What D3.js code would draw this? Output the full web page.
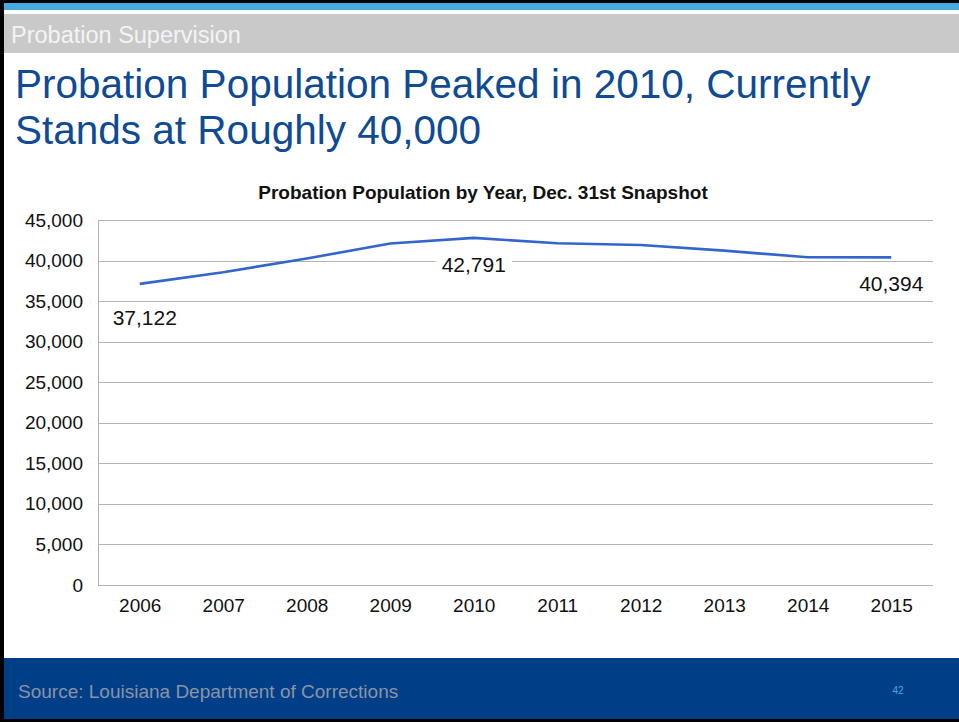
<!DOCTYPE html>
<html>
<head>
<meta charset="utf-8">
<script src="https://cdn.jsdelivr.net/npm/d3@7"></script>
<style>
  html, body { margin: 0; padding: 0; background: #fff; }
  svg { display: block; font-family: "Liberation Sans", Arial, sans-serif; }
</style>
</head>
<body>
<svg id="chart" width="959" height="722"></svg>
<script>
// ---- data ----
const years = ["2006","2007","2008","2009","2010","2011","2012","2013","2014","2015"];
const population = [37122, 38560, 40250, 42100, 42791, 42130, 41920, 41220, 40400, 40394];
const labeledYears = ["2006","2010","2015"];
const yTicks = [0, 5000, 10000, 15000, 20000, 25000, 30000, 35000, 40000, 45000];
const sectionLabel = "Probation Supervision";
const titleLines = ["Probation Population Peaked in 2010, Currently", "Stands at Roughly 40,000"];
const chartTitle = "Probation Population by Year, Dec. 31st Snapshot";
const sourceText = "Source: Louisiana Department of Corrections";
const pageNumber = "42";

(function(){
const svg = d3.select("#chart");
const W = 959, H = 722;

// ---- slide chrome ----
svg.append("rect").attr("x",0).attr("y",0).attr("width",W).attr("height",H).attr("fill","#fff");
svg.append("rect").attr("x",0).attr("y",0).attr("width",W).attr("height",3).attr("fill","#000");
svg.append("rect").attr("x",0).attr("y",3).attr("width",W).attr("height",7).attr("fill","#4aa8e0");
svg.append("rect").attr("x",0).attr("y",14).attr("width",W).attr("height",39).attr("fill","#c9c9c9");
svg.append("text").attr("x",11).attr("y",43).attr("font-size",23.5).attr("fill","#f4f4f4").text(sectionLabel);

svg.selectAll("text.title").data(titleLines).enter().append("text")
  .attr("class","title")
  .attr("x",15).attr("y",(d,i)=>98 + i*46)
  .attr("font-size",40.5).attr("fill","#0f4a94")
  .text(d=>d);

// footer
svg.append("rect").attr("x",0).attr("y",658).attr("width",W).attr("height",61).attr("fill","#003f87");
svg.append("rect").attr("x",0).attr("y",719).attr("width",W).attr("height",3).attr("fill","#000");
svg.append("text").attr("x",18).attr("y",698).attr("font-size",19).attr("fill","#8a93a8").text(sourceText);
svg.append("text").attr("x",898).attr("y",694).attr("font-size",10).attr("text-anchor","middle").attr("fill","#4aa8e0").text(pageNumber);

// left border
svg.append("rect").attr("x",0).attr("y",0).attr("width",4).attr("height",H).attr("fill","#000");

// ---- chart ----
const pl = 98, pr = 933, pt = 220, pb = 585;
const x = d3.scalePoint().domain(years).range([pl, pr]).padding(0.5);
const y = d3.scaleLinear().domain([0, 45000]).range([pb, pt]);

svg.append("text").attr("x",483).attr("y",199).attr("text-anchor","middle")
  .attr("font-size",19).attr("font-weight","bold").attr("fill","#111").text(chartTitle);

// gridlines
svg.append("g").selectAll("line").data(yTicks).enter().append("line")
  .attr("x1",pl).attr("x2",pr)
  .attr("y1",d=>Math.round(y(d))+0.5).attr("y2",d=>Math.round(y(d))+0.5)
  .attr("stroke","#b3b3b3").attr("stroke-width",1);
// left axis line
svg.append("line").attr("x1",pl+0.5).attr("x2",pl+0.5).attr("y1",pt).attr("y2",pb)
  .attr("stroke","#b3b3b3");

// y axis
const yAxis = svg.append("g").attr("transform",`translate(${pl},0)`)
  .call(d3.axisLeft(y).tickValues(yTicks).tickFormat(d3.format(",")).tickSize(0).tickPadding(15));
yAxis.select(".domain").remove();
yAxis.selectAll("text").attr("font-size",19).attr("fill","#111").attr("font-family","Liberation Sans, Arial, sans-serif");

// x axis
const xAxis = svg.append("g").attr("transform",`translate(0,${pb})`)
  .call(d3.axisBottom(x).tickSize(0).tickPadding(14));
xAxis.select(".domain").remove();
xAxis.selectAll("text").attr("font-size",19).attr("fill","#111").attr("font-family","Liberation Sans, Arial, sans-serif");

// line
const data = years.map((yr,i)=>({year:yr, value:population[i]}));
svg.append("path").datum(data)
  .attr("fill","none").attr("stroke","#3366cc").attr("stroke-width",2.6)
  .attr("stroke-linejoin","round")
  .attr("d", d3.line().x(d=>x(d.year)).y(d=>y(d.value)));

// data labels
const labelOffsets = {"2006":[5,34], "2010":[0,27], "2015":[0,26]};
const fmt = d3.format(",");
data.filter(d=>labeledYears.includes(d.year)).forEach(d=>{
  const off = labelOffsets[d.year];
  const g = svg.append("g");
  const t = g.append("text")
    .attr("x", x(d.year)+off[0]).attr("y", y(d.value)+off[1])
    .attr("text-anchor","middle").attr("dominant-baseline","central")
    .attr("font-size",21).attr("fill","#111").text(fmt(d.value));
  const bb = t.node().getBBox();
  g.insert("rect","text").attr("x",bb.x-6).attr("y",bb.y-2).attr("width",bb.width+12).attr("height",bb.height+4).attr("fill","#fff");
});
})();
</script>
</body>
</html>
